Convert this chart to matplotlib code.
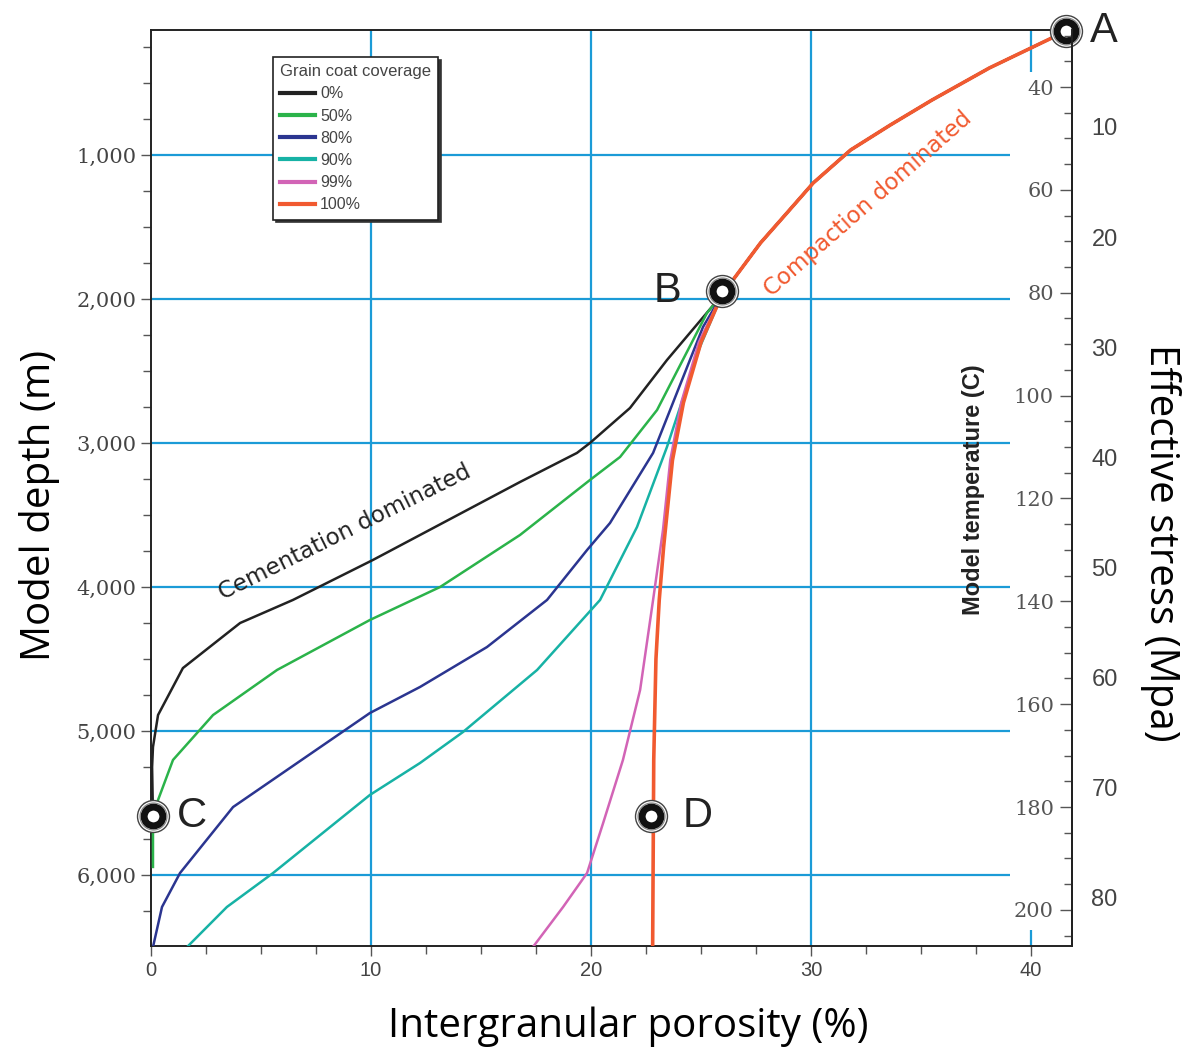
import matplotlib
matplotlib.use("Agg")
import matplotlib.pyplot as plt
import numpy as np
from matplotlib.ticker import MultipleLocator, FuncFormatter

# shared compaction path from A down to B (porosity %, depth m)
por_shared = [41.6, 38.1, 35.5, 33.6, 31.8, 30.1, 28.9, 27.7, 26.45, 25.95]
depth_shared = [139, 396, 618, 792, 965, 1194, 1403, 1611, 1868, 1972]

# lower branches for each grain coat coverage
por_0 = [23.45, 21.77, 19.95, 19.36, 16.77, 10.09, 6.45, 4.05, 1.45, 0.32, 0.09, 0.05, 0.09]
depth_0 = [2424, 2757, 3000, 3069, 3271, 3812, 4090, 4250, 4563, 4889, 5111, 5250, 5597]

por_50 = [25.27, 23.0, 21.32, 19.95, 16.77, 13.14, 9.95, 5.73, 2.82, 1.0, 0.32, 0.09, 0.09]
depth_50 = [2097, 2771, 3097, 3257, 3639, 4000, 4229, 4576, 4889, 5201, 5479, 5708, 5944]

por_80 = [25.09, 22.82, 20.86, 19.82, 18.0, 15.27, 12.23, 9.95, 3.73, 1.32, 0.5, 0.09]
depth_80 = [2194, 3069, 3556, 3743, 4090, 4417, 4694, 4875, 5528, 5986, 6222, 6500]

por_90 = [24.95, 23.45, 22.09, 20.41, 17.55, 14.18, 12.23, 9.95, 5.55, 3.45, 1.64]
depth_90 = [2333, 3028, 3583, 4090, 4576, 5007, 5222, 5444, 5986, 6222, 6500]

por_99 = [24.9, 24.1, 23.6, 23.27, 22.82, 22.23, 21.45, 20.55, 19.82, 18.73, 17.36]
depth_99 = [2300, 2720, 3120, 3604, 4090, 4715, 5201, 5639, 5986, 6222, 6500]

por_100 = [25.0, 24.2, 23.7, 23.3, 23.1, 22.95, 22.85, 22.8]
depth_100 = [2300, 2720, 3120, 3720, 4090, 4500, 5200, 6500]

labels = ["0%", "50%", "80%", "90%", "99%", "100%"]
colors = ["#222222", "#2bb34a", "#2b3590", "#17b2a5", "#d264b6", "#f15a30"]

# key points
pt_names = ["A", "B", "C", "D"]
pt_por = [41.6, 25.95, 0.1, 22.73]
pt_depth = [139, 1944, 5590, 5590]

# temperature / stress vs depth (linear)
temp_at_0, temp_grad = 25.22, 0.028
stress_at_0, stress_grad = -0.546, 0.013091

depth_top, depth_bot = 132, 6493
grid_blue = "#1b9bd7"

fig = plt.figure(figsize=(11.84, 10.51), dpi=100)
ax = fig.add_axes([151 / 1184, 105 / 1051, 921 / 1184, 916 / 1051])
ax.set_xlim(0, 41.86)
ax.set_ylim(depth_bot, depth_top)

# grid
ax.hlines([1000, 2000, 3000, 4000, 5000, 6000], 0, 39.05, color=grid_blue, lw=1.6, zorder=1)
ax.vlines([10, 20, 30], depth_top, depth_bot, color=grid_blue, lw=1.6, zorder=1)
ax.vlines(40, depth_top, 424, color=grid_blue, lw=1.6, zorder=1)
ax.vlines(40, 6382, depth_bot, color=grid_blue, lw=1.6, zorder=1)

branches = [(por_0, depth_0), (por_50, depth_50), (por_80, depth_80),
            (por_90, depth_90), (por_99, depth_99), (por_100, depth_100)]
for (p, d), lab, c in zip(branches, labels, colors):
    x = por_shared + p
    y = depth_shared + d
    lw = 2.6 if lab == "100%" else 1.8
    ax.plot(x, y, color=c, lw=lw, label=lab, zorder=3)

# bullseye markers
for name, x, y in zip(pt_names, pt_por, pt_depth):
    ax.plot(x, y, "o", ms=23, mfc="white", mec="#444444", mew=1.0, zorder=5, clip_on=False)
    ax.plot(x, y, "o", ms=19.5, mfc="none", mec="#888888", mew=0.8, zorder=5, clip_on=False)
    ax.plot(x, y, "o", ms=13.5, mfc="white", mec="#111111", mew=5, zorder=6, clip_on=False)

offsets = {"A": (17, 0, "left"), "B": (-29, 0, "right"), "C": (17, 0, "left"), "D": (23, 0, "left")}
for name, x, y in zip(pt_names, pt_por, pt_depth):
    dx, dy, ha = offsets[name]
    ax.annotate(name, (x, y), xytext=(dx, dy), textcoords="offset points",
                ha=ha, va="center", fontsize=30, family="Liberation Sans",
                color="#222222", zorder=7, annotation_clip=False)

ax.text(3.27, 4090, "Cementation dominated", rotation=26.4, rotation_mode="anchor",
        ha="left", va="baseline", fontsize=16.5, color="#222222", zorder=4)
ax.text(28.2, 1986, "Compaction dominated", rotation=41.3, rotation_mode="anchor",
        ha="left", va="baseline", fontsize=16.5, color="#f15a30", zorder=4)

# main axis ticks
ax.xaxis.set_major_locator(MultipleLocator(10))
ax.xaxis.set_minor_locator(MultipleLocator(2.5))
ax.yaxis.set_major_locator(MultipleLocator(1000))
ax.yaxis.set_minor_locator(MultipleLocator(250))
ax.yaxis.set_major_formatter(FuncFormatter(lambda v, p: f"{int(v):,}"))
ax.tick_params(axis="both", which="major", direction="out", length=7, width=1, color="#555555")
ax.tick_params(axis="both", which="minor", direction="out", length=6, width=1, color="#555555")
ax.tick_params(axis="y", right=False, which="both")
ax.tick_params(axis="x", top=False, which="both")
for t in ax.get_yticklabels():
    t.set_family("DejaVu Serif")
    t.set_fontsize(15)
    t.set_color("#444444")
for t in ax.get_xticklabels():
    t.set_family("Liberation Sans")
    t.set_fontsize(14.5)
    t.set_color("#444444")
for s in ax.spines.values():
    s.set_color("#222222")
    s.set_linewidth(1.4)

# temperature scale, labels inside the plot left of the right spine
tax = ax.twinx()
tax.set_ylim(temp_at_0 + temp_grad * depth_bot, temp_at_0 + temp_grad * depth_top)
tax.spines["left"].set_position(("axes", 1.0))
for k in ["top", "bottom", "right"]:
    tax.spines[k].set_visible(False)
tax.spines["left"].set_color("#222222")
tax.spines["left"].set_linewidth(1.4)
tax.yaxis.set_ticks_position("left")
tax.yaxis.set_major_locator(MultipleLocator(20))
tax.yaxis.set_minor_locator(MultipleLocator(5))
tax.tick_params(axis="y", which="major", direction="out", length=9, width=1, color="#555555",
                pad=4)
tax.tick_params(axis="y", which="minor", direction="out", length=6, width=1, color="#555555")
tax.set_yticks([40, 60, 80, 100, 120, 140, 160, 180, 200])
for t in tax.get_yticklabels():
    t.set_family("DejaVu Serif")
    t.set_fontsize(15)
    t.set_color("#555555")

# effective stress scale on the right
sax = ax.twinx()
sax.set_ylim(stress_at_0 + stress_grad * depth_bot, stress_at_0 + stress_grad * depth_top)
for k in ["top", "bottom", "left", "right"]:
    sax.spines[k].set_visible(False)
sax.set_yticks([10, 20, 30, 40, 50, 60, 70, 80])
sax.tick_params(axis="y", length=0, pad=14)
for t in sax.get_yticklabels():
    t.set_family("Liberation Sans")
    t.set_fontsize(17)
    t.set_color("#444444")

ax.text(0.893, 0.498, "Model temperature (C)", transform=ax.transAxes, rotation=90,
        ha="center", va="center", fontsize=17, fontweight="bold",
        family="Liberation Sans", color="#222222")

leg = ax.legend(loc="upper left", bbox_to_anchor=(0.1325, 0.9705), borderaxespad=0,
                title="Grain coat coverage", alignment="left", frameon=True,
                fancybox=False, shadow={"color": "#333333", "alpha": 1.0},
                fontsize=11.5, title_fontsize=12, handlelength=2.2, handletextpad=0.3,
                labelspacing=0.45, borderpad=0.45)
leg.get_frame().set_edgecolor("#222222")
leg.get_frame().set_linewidth(1.2)
leg.set_zorder(8)
for t in leg.get_texts():
    t.set_color("#444444")
    t.set_family("Liberation Sans")
leg.get_title().set_color("#444444")
leg.get_title().set_family("Liberation Sans")
for h in leg.get_lines():
    h.set_linewidth(3)

fig.text(40 / 1184, 1 - 505 / 1051, "Model depth (m)", rotation=90, ha="center", va="center",
         fontsize=29, family="Open Sans")
fig.text(628 / 1184, 1 - 1027 / 1051, "Intergranular porosity (%)", ha="center", va="center",
         fontsize=29, family="Open Sans")
fig.text(1160 / 1184, 1 - 543 / 1051, "Effective stress (Mpa)", rotation=270, ha="center",
         va="center", fontsize=29, family="Open Sans")

fig.savefig("out.png", dpi=100, facecolor="white")
